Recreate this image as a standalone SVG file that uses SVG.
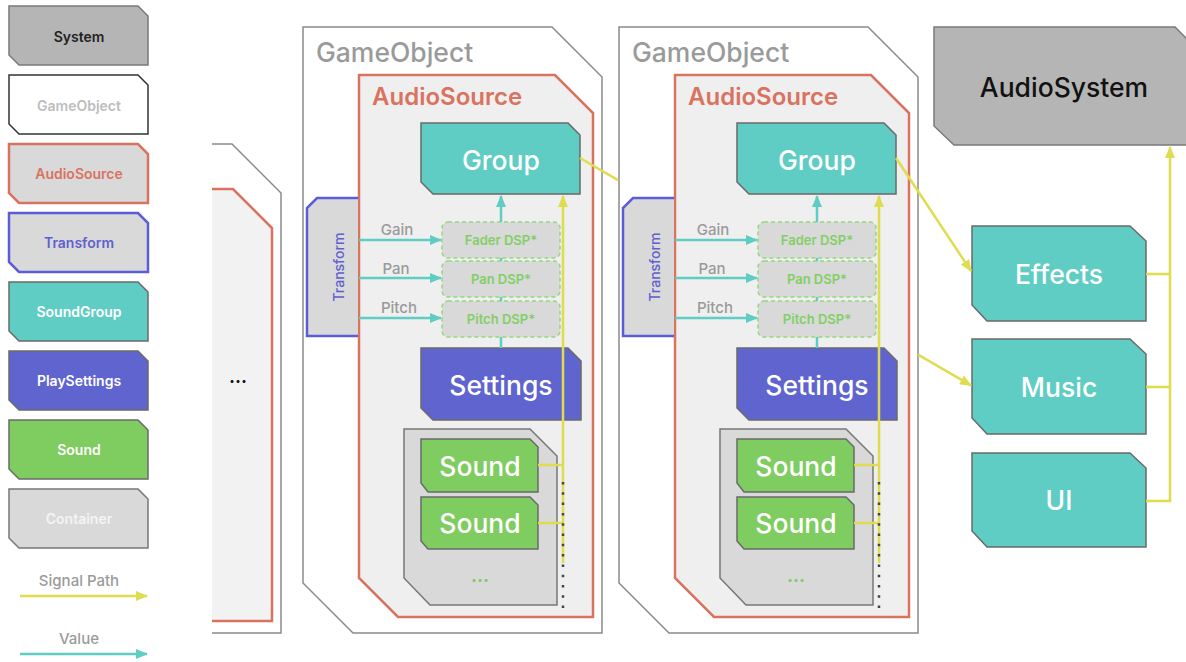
<svg xmlns="http://www.w3.org/2000/svg" width="1186" height="662" viewBox="0 0 1186 662">
<defs>
<style>
text{font-family:Inter,'Liberation Sans',sans-serif;}
.lg{font-size:14px;font-weight:600;text-anchor:middle;dominant-baseline:central;}
.big{font-size:26.5px;font-weight:500;fill:#fff;text-anchor:middle;dominant-baseline:central;}
.sys{fill:#b5b5b5;stroke:#7a7a7a;stroke-width:1.5;}
.grp{fill:#5fcdc3;stroke:#6a6a6a;stroke-width:1.5;}
.set{fill:#6064cf;stroke:#6a6a6a;stroke-width:1.5;}
.snd{fill:#7fcc60;stroke:#6a6a6a;stroke-width:1.5;}
.cont{fill:#d9d9d9;stroke:#777;stroke-width:1.5;}
.go{fill:#fff;stroke:#8a8a8a;stroke-width:1.5;}
.as{fill:#efefef;stroke:#d9735f;stroke-width:2.5;}
.tr{fill:#d9d9d9;stroke:#5c5cd8;stroke-width:2.5;}
.dsp{fill:#d9d9d9;stroke:#94d87e;stroke-width:1.5;stroke-dasharray:4 3;}
.dspt{font-size:13px;font-weight:600;fill:#82cf66;text-anchor:middle;dominant-baseline:central;}
.val{font-size:15px;font-weight:500;fill:#9a9a9a;text-anchor:middle;dominant-baseline:central;}
.yl{fill:none;stroke:#e0dc4f;stroke-width:2.5;}
.tl{fill:none;stroke:#5fcdc3;stroke-width:2.5;}
.dots{fill:none;stroke:#444;stroke-width:2.5;stroke-dasharray:2.5 7.8;}
.got{font-size:26.5px;font-weight:500;fill:#9a9a9a;}
.ast{font-size:24px;font-weight:600;fill:#d9735f;}
</style>
<marker id="ay" viewBox="0 0 12 10" refX="11" refY="5" markerWidth="12" markerHeight="10" markerUnits="userSpaceOnUse" orient="auto"><path d="M0,0 L12,5 L0,10 Z" fill="#e0dc4f"/></marker>
<marker id="at" viewBox="0 0 12 10" refX="11" refY="5" markerWidth="12" markerHeight="10" markerUnits="userSpaceOnUse" orient="auto"><path d="M0,0 L12,5 L0,10 Z" fill="#5fcdc3"/></marker>
</defs>
<rect width="1186" height="662" fill="#fff"/>

<!-- Legend -->
<g id="legend">
<g id="lg-system"><path class="sys" d="M9,6 H138 L148,16 V65 H19 L9,55 Z"/><text class="lg" x="79" y="36" fill="#222">System</text></g>
<g id="lg-gameobject"><path d="M9,75 H138 L148,85 V134 H19 L9,124 Z" fill="#fff" stroke="#333" stroke-width="1.5"/><text class="lg" x="79" y="105" fill="#bdbdbd">GameObject</text></g>
<g id="lg-audiosource"><path class="as" d="M9,144 H138 L148,154 V203 H19 L9,193 Z" style="fill:#d9d9d9"/><text class="lg" x="79" y="173" fill="#d9735f">AudioSource</text></g>
<g id="lg-transform"><path class="tr" d="M9,213 H138 L148,223 V272 H19 L9,262 Z"/><text class="lg" x="79" y="242" fill="#6060d0">Transform</text></g>
<g id="lg-soundgroup"><path class="grp" d="M9,282 H138 L148,292 V341 H19 L9,331 Z"/><text class="lg" x="79" y="311" fill="#fff">SoundGroup</text></g>
<g id="lg-playsettings"><path class="set" d="M9,351 H138 L148,361 V410 H19 L9,400 Z"/><text class="lg" x="79" y="380" fill="#fff">PlaySettings</text></g>
<g id="lg-sound"><path class="snd" d="M9,420 H138 L148,430 V479 H19 L9,469 Z"/><text class="lg" x="79" y="449" fill="#fff">Sound</text></g>
<g id="lg-container"><path class="cont" d="M9,489 H138 L148,499 V548 H19 L9,538 Z"/><text class="lg" x="79" y="518" fill="#f4f4f4">Container</text></g>
<g id="lg-signal"><text class="val" x="79" y="580">Signal Path</text><path class="yl" d="M20,596 H147" marker-end="url(#ay)"/></g>
<g id="lg-value"><text class="val" x="79" y="638">Value</text><path class="tl" d="M20,654 H147" marker-end="url(#at)"/></g>
</g>

<!-- partial GameObject -->
<g id="go0">
<path d="M212,144 H232 L281,193 V633 H212" fill="#fff" stroke="#8a8a8a" stroke-width="1.5"/>
<path d="M212,189 H233 L272,228 V621 H212" fill="#f2f2f2" stroke="#d9735f" stroke-width="2.5"/>
<text x="238" y="376" font-size="18" font-weight="700" fill="#111" text-anchor="middle" dominant-baseline="central">...</text>
</g>

<!-- GameObject 1 -->
<g id="go1">
<path class="go" d="M303,27 H552 L602,77 V633 H353 L303,583 Z"/>
<text class="got" x="316" y="62">GameObject</text>
<g id="as1">
<path class="as" d="M359,75 H555 L593,113 V617 H398 L359,578 Z"/>
<text class="ast" x="372" y="105">AudioSource</text>
</g>
<g id="tr1"><path class="tr" d="M358,198 H317 L307,208 V336 H358"/><text x="338" y="267" font-size="14" font-weight="500" fill="#6060d0" text-anchor="middle" dominant-baseline="central" transform="rotate(-90 338 267)">Transform</text></g>
<g id="group1"><path class="grp" d="M421,123 H568 L580,135 V194 H433 L421,182 Z"/><text class="big" x="501" y="160">Group</text></g>
<g id="fader1"><rect class="dsp" x="442" y="222" width="118" height="36" rx="6"/><text class="dspt" x="501" y="240">Fader DSP*</text></g>
<g id="pan1"><rect class="dsp" x="442" y="261" width="118" height="36" rx="6"/><text class="dspt" x="501" y="279">Pan DSP*</text></g>
<g id="pitch1"><rect class="dsp" x="442" y="301" width="118" height="36" rx="6"/><text class="dspt" x="501" y="319">Pitch DSP*</text></g>
<g id="settings1"><path class="set" d="M421,348 H568 L581,361 V420 H433 L421,408 Z"/><text class="big" x="501" y="385">Settings</text></g>
<g id="container1"><path class="cont" d="M404,429 H530 L557,456 V605 H430 L404,578 Z"/><text x="480" y="575" font-size="18" font-weight="700" fill="#7fcc60" text-anchor="middle" dominant-baseline="central">...</text></g>
<g id="sound1a"><path class="snd" d="M421,439 H530 L538,447 V492 H428 L421,483 Z"/><text class="big" x="480" y="466">Sound</text></g>
<g id="sound1b"><path class="snd" d="M421,497 H530 L538,505 V549 H428 L421,541 Z"/><text class="big" x="480" y="523">Sound</text></g>
</g>

<!-- GameObject 2 -->
<g id="go2" transform="translate(316,0)">
<path class="go" d="M303,27 H552 L602,77 V633 H353 L303,583 Z"/>
<text class="got" x="316" y="62">GameObject</text>
<g id="as2">
<path class="as" d="M359,75 H555 L593,113 V617 H398 L359,578 Z"/>
<text class="ast" x="372" y="105">AudioSource</text>
</g>
<g id="tr2"><path class="tr" d="M358,198 H317 L307,208 V336 H358"/><text x="338" y="267" font-size="14" font-weight="500" fill="#6060d0" text-anchor="middle" dominant-baseline="central" transform="rotate(-90 338 267)">Transform</text></g>
<g id="group2"><path class="grp" d="M421,123 H568 L580,135 V194 H433 L421,182 Z"/><text class="big" x="501" y="160">Group</text></g>
<g id="fader2"><rect class="dsp" x="442" y="222" width="118" height="36" rx="6"/><text class="dspt" x="501" y="240">Fader DSP*</text></g>
<g id="pan2"><rect class="dsp" x="442" y="261" width="118" height="36" rx="6"/><text class="dspt" x="501" y="279">Pan DSP*</text></g>
<g id="pitch2"><rect class="dsp" x="442" y="301" width="118" height="36" rx="6"/><text class="dspt" x="501" y="319">Pitch DSP*</text></g>
<g id="settings2"><path class="set" d="M421,348 H568 L581,361 V420 H433 L421,408 Z"/><text class="big" x="501" y="385">Settings</text></g>
<g id="container2"><path class="cont" d="M404,429 H530 L557,456 V605 H430 L404,578 Z"/><text x="480" y="575" font-size="18" font-weight="700" fill="#7fcc60" text-anchor="middle" dominant-baseline="central">...</text></g>
<g id="sound2a"><path class="snd" d="M421,439 H530 L538,447 V492 H428 L421,483 Z"/><text class="big" x="480" y="466">Sound</text></g>
<g id="sound2b"><path class="snd" d="M421,497 H530 L538,505 V549 H428 L421,541 Z"/><text class="big" x="480" y="523">Sound</text></g>
</g>

<!-- System side -->
<g id="audiosystem"><path class="sys" d="M934,27 H1175 L1195,47 V145 H954 L934,126 Z"/><text x="1064" y="87" font-size="26.5" font-weight="500" fill="#111" text-anchor="middle" dominant-baseline="central">AudioSystem</text></g>
<g id="effects"><path class="grp" d="M972,226 H1130 L1146,241 V321 H987 L972,305 Z"/><text class="big" x="1059" y="274">Effects</text></g>
<g id="music"><path class="grp" d="M972,339 H1130 L1146,354 V434 H987 L972,418 Z"/><text class="big" x="1059" y="387">Music</text></g>
<g id="ui"><path class="grp" d="M972,453 H1130 L1146,468 V547 H987 L972,531 Z"/><text class="big" x="1059" y="500">UI</text></g>

<!-- Connectors -->
<g id="connectors">
<g id="c-go1">
<path class="tl" d="M359,240 H441" marker-end="url(#at)"/>
<path class="tl" d="M359,278 H441" marker-end="url(#at)"/>
<path class="tl" d="M359,318 H441" marker-end="url(#at)"/>
<text class="val" x="397" y="229">Gain</text>
<text class="val" x="396" y="268">Pan</text>
<text class="val" x="399" y="307">Pitch</text>
<path class="tl" d="M501,348 V337 M501,301 V297 M501,261 V258 M501,222 V196" marker-end="url(#at)"/>
<path class="yl" d="M538,465 H563 M538,523 H563 M563,563 V196" marker-end="url(#ay)"/>
<path class="dots" d="M563,482 V612"/>
</g>
<g id="c-go2" transform="translate(316,0)">
<path class="tl" d="M359,240 H441" marker-end="url(#at)"/>
<path class="tl" d="M359,278 H441" marker-end="url(#at)"/>
<path class="tl" d="M359,318 H441" marker-end="url(#at)"/>
<text class="val" x="397" y="229">Gain</text>
<text class="val" x="396" y="268">Pan</text>
<text class="val" x="399" y="307">Pitch</text>
<path class="tl" d="M501,348 V337 M501,301 V297 M501,261 V258 M501,222 V196" marker-end="url(#at)"/>
<path class="yl" d="M538,465 H563 M538,523 H563 M563,563 V196" marker-end="url(#ay)"/>
<path class="dots" d="M563,482 V612"/>
</g>
<path class="yl" d="M580,158 L618,180.1 M918,354.6 L971,385.4" marker-end="url(#ay)"/>
<path class="yl" d="M896,158 L971,271" marker-end="url(#ay)"/>
<path class="yl" d="M1146,274 H1170 M1146,387 H1170 M1146,501 H1170 V147" marker-end="url(#ay)"/>
</g>
</svg>
